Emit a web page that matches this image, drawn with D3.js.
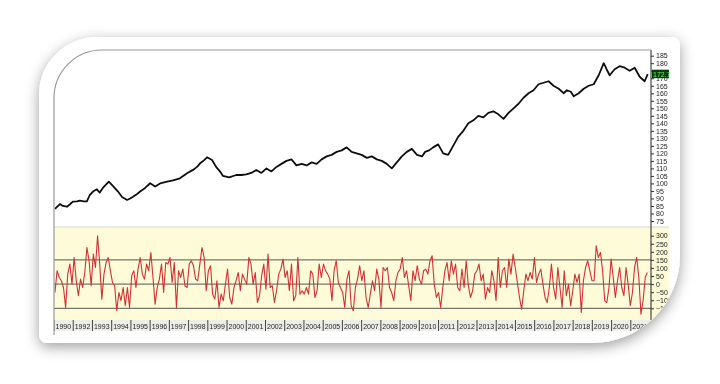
<!DOCTYPE html>
<html>
<head>
<meta charset="utf-8">
<script src="https://cdn.jsdelivr.net/npm/d3@7/dist/d3.min.js"></script>
<style>
  body { margin: 0; background: #fff; }
  svg { display: block; font-family: "Liberation Sans", Arial, sans-serif; }
</style>
</head>
<body>
<div id="chart"></div>
<script>
// price (upper pane): fractional year -> value
const priceDates = [1991.05,1991.21,1991.31,1991.46,1991.67,1991.82,1991.98,1992.19,1992.34,1992.55,1992.71,1992.86,1993.07,1993.23,1993.38,1993.54,1993.69,1993.85,1994.01,1994.33,1994.54,1994.80,1994.96,1995.11,1995.32,1995.48,1995.74,1996.00,1996.26,1996.52,1996.88,1997.19,1997.55,1997.92,1998.23,1998.44,1998.60,1998.81,1998.96,1999.22,1999.43,1999.64,1999.79,2000.11,2000.48,
  2000.74,2001.00,2001.26,2001.52,2001.79,2002.05,2002.31,2002.57,2002.83,2003.09,2003.35,2003.61,2003.88,2004.14,2004.40,2004.66,2004.92,2005.18,2005.44,2005.70,2005.96,2006.22,2006.48,2006.74,2007.00,2007.27,2007.53,2007.79,2008.05,2008.31,2008.57,2008.83,2009.09,2009.35,2009.61,2009.88,2010.14,2010.30,2010.51,2010.72,2010.98,2011.24,2011.50,2011.76,2012.02,2012.29,2012.55,2012.81,2013.07,2013.33,2013.59,2013.85,2014.11,2014.38,2014.64,2014.90,2015.16,2015.42,2015.68,2015.94,2016.20,2016.46,2016.72,2016.98,2017.25,2017.51,2017.67,2017.88,2018.03,2018.29,2018.55,2018.81,2019.07,2019.33,2019.59,2019.74,
  2019.90,2020.16,2020.42,2020.68,2020.94,2021.20,2021.46,2021.72,2021.88];
const priceValues = [83,85,86.3,85,84.5,86,87.9,88,88.5,88,88,92.3,95,96.1,93.9,97,99,101.2,99,94.6,91,89,90,91.2,93,94.6,97,100.1,97.9,100,101.2,102,103.4,106.8,109,111,113.4,115.5,117.4,115.6,111,107.9,105,104.1,105.6,
  105.6,106,107,109,107,110,108,111,113,115,116,112,113,112,114,113,116,118,119,121,122,124,121,120,119,117,118,116,115,113,110,114,118,121,123,119,118,121,122,124,126,120,119,125,131,135,140,142,145,144,147,148,146,143,147,150,153,157,160,162,166,167,168,165,163,160,162,161,158,160,163,165,166,172,180,176,
  172,176,178,177,175,177,171,168,172.7];

// oscillator (lower pane), evenly spaced readings from start to end
const oscStart = 1991.05, oscEnd = 2021.86;
const oscValues = [-52,83,41,21,-21,-145,62,124,0,165,21,-72,31,-21,72,227,145,-10,186,103,300,124,-93,62,134,165,83,10,-10,-165,-52,-103,-21,-134,-21,-145,52,83,-21,93,165,62,31,124,83,196,41,-124,-21,31,124,-52,134,124,165,10,134,-145,83,41,93,-10,-21,124,145,114,31,21,124,227,165,-41,83,114,-62,-93,21,-145,-62,-103,0,93,-83,-124,-21,21,72,-41,62,31,0,165,124,0,72,-114,-72,52,124,-31,186,-21,-10,-114,-41,62,93,155,41,83,-41,124,-103,-72,165,-62,-41,-62,-21,-62,83,62,-83,-41,124,41,124,83,62,31,-103,83,145,10,-21,-52,-145,
  31,83,-134,-165,-21,31,114,21,83,-83,-145,-62,21,-41,93,31,-145,103,83,103,-21,-52,-103,21,72,93,165,41,83,-10,-103,83,21,114,31,0,83,93,62,145,176,0,-83,-52,-145,-21,83,134,21,145,62,124,-21,-41,93,-21,145,-10,-83,-41,62,83,124,21,62,-93,-21,-52,83,21,-103,165,-21,83,103,-21,155,62,186,103,10,-83,-155,-41,62,21,72,31,165,10,62,93,0,-83,-114,-21,124,-21,-93,103,-21,-145,83,-72,0,-134,-41,62,10,62,-176,21,103,145,83,21,21,238,165,196,83,-103,-114,-21,155,41,-83,21,103,-21,-72,103,0,-134,-52,103,165,41,-186,-103,41,72];

const priceTicks = d3.range(75, 186, 5);
const oscTicks = d3.range(-150, 301, 50);
const oscLevels = [150, 0, -150];
const yearLabels = ["1990","1992","1993","1994","1995","1996","1997","1998","1999","2000","2001","2002","2003","2004","2005","2006","2007","2008","2009","2010","2011","2012","2013","2014","2015","2016","2017","2018","2019","2020","2021"];
const lastPrice = 172.7;

const W = 720, H = 384;
const svg = d3.select("#chart").append("svg").attr("width", W).attr("height", H);
const defs = svg.append("defs");

function cornerPath(x, y, w, h, tl, tr, br, bl) {
  return `M${x + tl},${y} H${x + w - tr} A${tr},${tr} 0 0 1 ${x + w},${y + tr}` +
    ` V${y + h - br} A${br},${br} 0 0 1 ${x + w - br},${y + h}` +
    ` H${x + bl} A${bl},${bl} 0 0 1 ${x},${y + h - bl}` +
    ` V${y + tl} A${tl},${tl} 0 0 1 ${x + tl},${y} Z`;
}

const card = cornerPath(39, 37, 641, 306, 58, 8, 88, 8);

const shadow = defs.append("filter").attr("id", "shadow")
  .attr("x", "-10%").attr("y", "-15%").attr("width", "120%").attr("height", "140%");
shadow.append("feDropShadow").attr("dx", 0).attr("dy", 4).attr("stdDeviation", 7)
  .attr("flood-color", "#000").attr("flood-opacity", 0.38);

const soft = defs.append("filter").attr("id", "soft");
soft.append("feGaussianBlur").attr("stdDeviation", 0.35);

defs.append("clipPath").attr("id", "cardClip").append("path").attr("d", card);
const inner = cornerPath(54, 50, 640, 300, 48, 0, 0, 0);
defs.append("clipPath").attr("id", "innerClip").append("path").attr("d", inner);
defs.append("clipPath").attr("id", "plotClip").append("rect")
  .attr("x", 54).attr("y", 50).attr("width", 597).attr("height", 290);

svg.append("path").attr("d", card).attr("fill", "#fff").attr("filter", "url(#shadow)");

const g0 = svg.append("g").attr("clip-path", "url(#cardClip)");
const g = g0.append("g").attr("clip-path", "url(#innerClip)")
  .append("g").attr("filter", "url(#soft)");

const x = d3.scaleLinear().domain([1991, 2022.05]).range([54, 651]);
const yP = d3.scaleLinear().domain([75, 185]).range([221, 55.7]);
const yO = d3.scaleLinear().domain([-150, 300]).range([308.3, 235.7]);

// panes
g.append("rect").attr("x", 54).attr("y", 50).attr("width", 640).attr("height", 177).attr("fill", "#fff");
g.append("rect").attr("x", 54).attr("y", 227).attr("width", 615).attr("height", 93).attr("fill", "#fdfbd8");
g.append("line").attr("x1", 54).attr("x2", 669).attr("y1", 227).attr("y2", 227).attr("stroke", "#d8d8d0");

// oscillator reference lines
g.selectAll("line.level").data(oscLevels).enter().append("line")
  .attr("class", "level")
  .attr("x1", 54).attr("x2", 651)
  .attr("y1", d => yO(d)).attr("y2", d => yO(d))
  .attr("stroke", "#555").attr("stroke-width", 1);

// series
const plot = g.append("g").attr("clip-path", "url(#plotClip)");
const priceData = priceDates.map((d, i) => [d, priceValues[i]]);
plot.append("path").datum(priceData)
  .attr("fill", "none").attr("stroke", "#111").attr("stroke-width", 1.8)
  .attr("stroke-linejoin", "round")
  .attr("d", d3.line().x(d => x(d[0])).y(d => yP(d[1])));

const oscStep = (oscEnd - oscStart) / (oscValues.length - 1);
const oscData = oscValues.map((v, i) => [oscStart + i * oscStep, v]);
plot.append("path").datum(oscData)
  .attr("fill", "none").attr("stroke", "#d03232").attr("stroke-width", 1.1)
  .attr("stroke-linejoin", "round")
  .attr("d", d3.line().x(d => x(d[0])).y(d => yO(d[1])));

// right axes
const axP = g.append("g").attr("transform", "translate(651,0)")
  .call(d3.axisRight(yP).tickValues(priceTicks).tickSize(3).tickPadding(2));
const axO = g.append("g").attr("transform", "translate(651,0)")
  .call(d3.axisRight(yO).tickValues(oscTicks).tickSize(3).tickPadding(2));
g.append("line").attr("x1", 651).attr("x2", 651).attr("y1", 50).attr("y2", 320).attr("stroke", "#222");
[axP, axO].forEach(a => {
  a.select(".domain").remove();
  a.selectAll("line").attr("stroke", "#333");
  a.selectAll("text").attr("font-size", 7).attr("fill", "#222");
});
// the value tag hides the 175 label
axP.selectAll(".tick").filter(d => d === 175).select("text").remove();

// last value tag
const tag = g.append("g").attr("transform", `translate(652,${yP(lastPrice)})`);
tag.append("rect").attr("x", 0).attr("y", -4.5).attr("width", 17).attr("height", 8.5).attr("fill", "#103a10");
tag.append("text").attr("x", 1).attr("y", 2.5).attr("font-size", 7).attr("fill", "#5cff5c").text(lastPrice);

// year strip
const strip = g.append("g");
strip.append("rect").attr("x", 54).attr("y", 320).attr("width", 597).attr("height", 11).attr("fill", "#ededea");
const yearG = strip.append("g").attr("clip-path", "url(#plotClip)");
yearG.selectAll("line").data(yearLabels).enter().append("line")
  .attr("x1", (d, i) => x(1991 + i)).attr("x2", (d, i) => x(1991 + i))
  .attr("y1", 320).attr("y2", 331).attr("stroke", "#444");
yearG.selectAll("text").data(yearLabels).enter().append("text")
  .attr("x", (d, i) => x(1991 + i) + 1.5).attr("y", 328.5)
  .attr("font-size", 7).attr("fill", "#222").text(d => d);

// pane borders with the rounded top-left corner
g0.append("path").attr("d", "M54,335 V98 A48,48 0 0 1 102,50 H651")
  .attr("fill", "none").attr("stroke", "#9a9a9a").attr("stroke-width", 1.2);
</script>
</body>
</html>
